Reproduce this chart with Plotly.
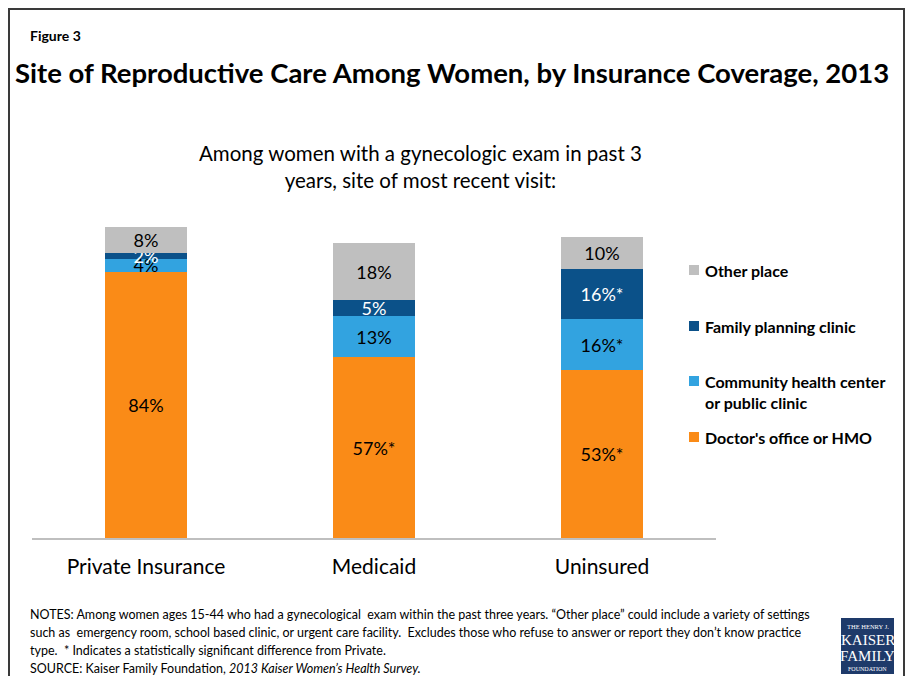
import plotly.graph_objects as go

# Data: site of most recent gynecologic visit, by insurance coverage (%)
categories = ["Private Insurance", "Medicaid", "Uninsured"]
doctor_office = [84, 57, 53]
community_clinic = [4, 13, 16]
family_planning = [2, 5, 16]
other_place = [8, 18, 10]

# Labels (asterisk = statistically significant difference from Private)
doctor_labels = ["84%", "57%*", "53%*"]
community_labels = ["4%", "13%", "16%*"]
family_labels = ["2%", "5%", "16%*"]
other_labels = ["8%", "18%", "10%"]

series = [
    ("Doctor's office or HMO", doctor_office, doctor_labels, "#FA8B17", "black"),
    ("Community health center<br>or public clinic", community_clinic, community_labels, "#32A3E0", "black"),
    ("Family planning clinic", family_planning, family_labels, "#0B5189", "white"),
    ("Other place", other_place, other_labels, "#BFBFBF", "black"),
]

W, H = 908, 676
PL, PR, PT, PB = 32, 716, 221, 538  # plot area in pixels

FONT = "Lato"


def px(x):
    return (x - PL) / (PR - PL)


def py(y):
    return (PB - y) / (PB - PT)


fig = go.Figure()
for name, vals, labels, color, tcolor in series:
    fig.add_trace(go.Bar(
        x=categories, y=vals, name=name, text=labels,
        marker=dict(color=color, line=dict(width=0)),
        textposition="inside", insidetextanchor="middle", textangle=0,
        textfont=dict(family=FONT, size=18, color=tcolor),
        showlegend=False, hoverinfo="skip",
    ))

annotations = []
shapes = []

# Frame
shapes.append(dict(type="rect", xref="paper", yref="paper",
                   x0=px(9), x1=px(904), y0=py(9), y1=py(690),
                   line=dict(color="#3A3A3A", width=2), fillcolor="rgba(0,0,0,0)", layer="below"))

# Headings
annotations.append(dict(text="<b>Figure 3</b>", x=px(28), y=py(35), xref="paper", yref="paper",
                        xanchor="left", yanchor="middle", showarrow=False,
                        font=dict(family=FONT, size=14, color="black")))
annotations.append(dict(text="<b>Site of Reproductive Care Among Women, by Insurance Coverage, 2013</b>",
                        x=px(452), y=py(72), xref="paper", yref="paper",
                        xanchor="center", yanchor="middle", showarrow=False,
                        font=dict(family=FONT, size=27.5, color="black")))
annotations.append(dict(text="Among women with a gynecologic exam in past 3<br>years, site of most recent visit:",
                        x=px(421), y=py(166), xref="paper", yref="paper",
                        xanchor="center", yanchor="middle", showarrow=False,
                        font=dict(family=FONT, size=20.5, color="black")))

# Legend (top to bottom matches stacking order)
legend_items = [
    ("Other place", "#BFBFBF", 270),
    ("Family planning clinic", "#0B5189", 326),
    ("Community health center<br>or public clinic", "#32A3E0", 392),
    ("Doctor's office or HMO", "#FA8B17", 437),
]
for label, color, yc in legend_items:
    marker_y = yc if "<br>" not in label else yc - 11
    shapes.append(dict(type="rect", xref="paper", yref="paper",
                       x0=px(689), x1=px(699), y0=py(marker_y - 5), y1=py(marker_y + 5),
                       fillcolor=color, line=dict(width=0)))
    annotations.append(dict(text="<b>" + label + "</b>", x=px(703), y=py(yc), xref="paper", yref="paper",
                            xanchor="left", yanchor="middle", align="left", showarrow=False,
                            font=dict(family=FONT, size=16, color="black")))

# Notes, one line each
note_lines = [
    "NOTES: Among women ages 15-44 who had a gynecological  exam within the past three years. \u201cOther place\u201d could include a variety of settings",
    "such as  emergency room, school based clinic, or urgent care facility.  Excludes those who refuse to answer or report they don\u2019t know practice",
    "type.  * Indicates a statistically significant difference from Private.",
    "SOURCE: Kaiser Family Foundation, <i>2013 Kaiser Women\u2019s Health Survey.</i>",
]
for line, yc in zip(note_lines, [614, 632.5, 650.5, 668]):
    annotations.append(dict(text=line, x=px(28), y=py(yc), xref="paper", yref="paper",
                            xanchor="left", yanchor="middle", align="left", showarrow=False,
                            font=dict(family=FONT, size=12.5, color="black")))

# Logo block
shapes.append(dict(type="rect", xref="paper", yref="paper",
                   x0=px(841), x1=px(894), y0=py(618), y1=py(674),
                   fillcolor="#1E3A6A", line=dict(width=0)))
for txt, yc, sz in [("THE HENRY J.", 626, 6.5), ("KAISER", 640, 15), ("FAMILY", 656, 15), ("FOUNDATION", 668.5, 6)]:
    annotations.append(dict(text=txt, x=px(867.5), y=py(yc), xref="paper", yref="paper",
                            xanchor="center", yanchor="middle", showarrow=False,
                            font=dict(family="Liberation Serif", size=sz, color="white")))

fig.update_layout(
    barmode="stack",
    bargap=0.64,
    width=W, height=H,
    margin=dict(l=PL, r=W - PR, t=PT, b=H - PB, pad=0),
    paper_bgcolor="white", plot_bgcolor="white",
    uniformtext=dict(minsize=18, mode="show"),
    xaxis=dict(showline=True, linecolor="#BFBFBF", linewidth=2, ticks="", showgrid=False,
               tickfont=dict(family=FONT, size=21, color="black"), ticklabelstandoff=9),
    yaxis=dict(range=[0, 100], visible=False, showgrid=False),
    annotations=annotations,
    shapes=shapes,
    font=dict(family=FONT),
)

fig.write_html("out.html")
